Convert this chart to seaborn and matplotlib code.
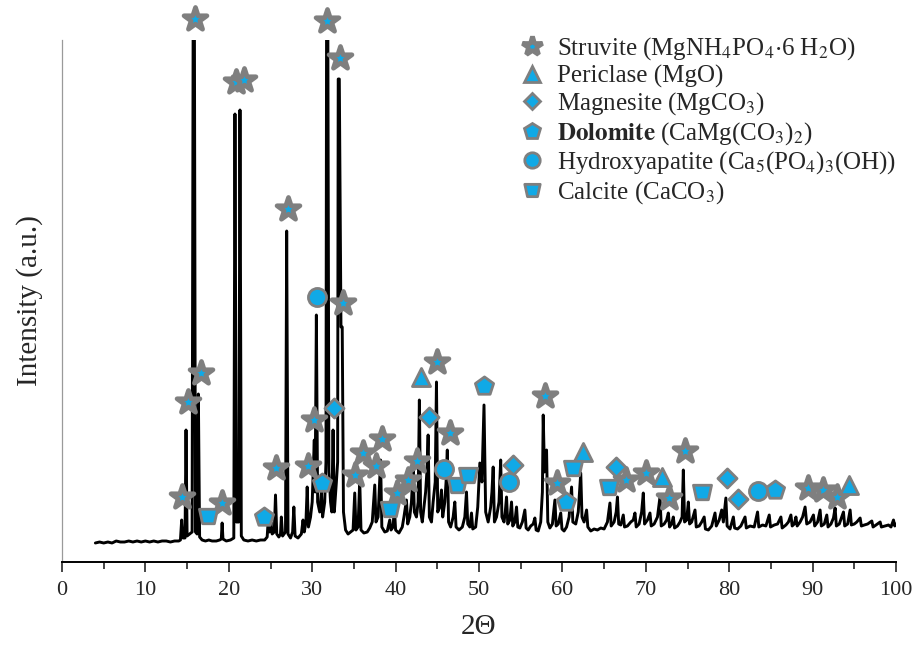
## XRD pattern of the recovered precipitate with phase markers
import numpy as np
import pandas as pd
import matplotlib
matplotlib.use("Agg")
import matplotlib.pyplot as plt
from matplotlib.lines import Line2D
from matplotlib.path import Path
import seaborn as sns

# digitised scan (2theta, intensity a.u.), split in four ranges
scan_low = [(4.0, 19), (4.5, 20), (5.0, 19), (5.5, 20), (6.0, 19), (6.5, 21), (7.0, 20), (7.5, 20),
            (8.0, 21), (8.5, 20), (9.0, 21), (9.5, 20), (10.0, 21), (10.5, 20), (11.0, 21), (11.5, 20),
            (12.0, 21), (12.5, 21), (13.0, 20), (13.5, 21), (14.0, 21),
            (14.2, 22), (14.35, 42), (14.5, 24), (14.75, 24), (14.87, 132), (15.0, 26),
            (15.6, 30), (15.72, 522), (15.88, 522), (16.0, 30), (16.2, 28), (16.35, 168), (16.5, 25),
            (16.8, 22), (17.2, 21), (17.6, 22), (18.0, 21), (18.5, 21), (18.9, 22),
            (19.1, 23), (19.2, 39), (19.3, 23), (19.7, 21), (20.2, 22),
            (20.6, 24), (20.74, 448), (20.9, 40), (21.2, 40), (21.34, 452), (21.5, 26),
            (21.8, 22), (22.3, 21), (22.8, 22), (23.3, 21), (23.8, 22), (24.3, 22),
            (24.6, 25), (24.75, 45), (24.9, 30), (25.05, 40), (25.2, 28),
            (25.45, 30), (25.6, 67), (25.75, 28), (26.0, 25), (26.2, 28), (26.3, 45), (26.45, 26),
            (26.8, 30), (26.94, 331), (27.1, 28), (27.4, 24), (27.65, 30), (27.8, 55), (27.95, 26),
            (28.3, 24), (28.7, 28), (28.9, 42), (29.05, 30), (29.25, 40), (29.4, 75), (29.55, 35),
            (29.8, 45), (30.0, 60), (30.25, 122), (30.35, 70), (30.5, 247), (30.65, 60),
            (30.9, 50), (31.1, 70), (31.25, 45), (31.5, 60),
            (31.65, 100), (31.72, 522), (31.88, 522), (32.0, 90), (32.2, 60), (32.35, 50),
            (32.5, 132), (32.65, 50), (32.9, 80), (33.05, 100), (33.12, 483), (33.25, 483),
            (33.45, 235), (33.6, 235), (33.75, 50), (34.0, 32)]

scan_mid = [(34.3, 28), (34.6, 30), (34.9, 32), (35.1, 69), (35.25, 32), (35.5, 35), (35.7, 82),
            (35.85, 32), (36.2, 29), (36.6, 30), (36.9, 34), (37.2, 40), (37.5, 77), (37.65, 40),
            (37.9, 45), (38.2, 102), (38.35, 35), (38.7, 30), (39.0, 31), (39.3, 42), (39.45, 32),
            (39.7, 35), (39.85, 55), (40.0, 32), (40.4, 29), (40.8, 35), (41.0, 45), (41.3, 62),
            (41.45, 38), (41.7, 45), (41.9, 60), (42.1, 92), (42.25, 50), (42.5, 45), (42.7, 60),
            (42.85, 162), (43.0, 50), (43.2, 40), (43.4, 55), (43.6, 70), (43.75, 90), (43.9, 127),
            (44.05, 45), (44.3, 40), (44.5, 60), (44.75, 80), (44.9, 180), (45.05, 50), (45.3, 55),
            (45.5, 72), (45.65, 45), (45.9, 60), (46.05, 80), (46.2, 112), (46.35, 40), (46.6, 35),
            (46.9, 45), (47.1, 60), (47.25, 35), (47.6, 32), (48.0, 35), (48.3, 45), (48.5, 70),
            (48.65, 38), (48.9, 35), (49.1, 49), (49.25, 33), (49.6, 35), (49.85, 55), (50.1, 99),
            (50.35, 80), (50.6, 157), (50.8, 50), (51.1, 40), (51.4, 55), (51.55, 70), (51.7, 95),
            (51.85, 40), (52.1, 45), (52.4, 60), (52.6, 102), (52.75, 45), (53.0, 40), (53.15, 50),
            (53.3, 65), (53.45, 38), (53.7, 42), (53.9, 60), (54.05, 36), (54.3, 40), (54.5, 55),
            (54.65, 35)]

scan_high = [(54.9, 34), (55.2, 40), (55.5, 52), (55.65, 34), (55.9, 32), (56.2, 36), (56.5, 38),
             (56.7, 44), (56.85, 32), (57.1, 31), (57.4, 40), (57.6, 70), (57.7, 147), (57.85, 90),
             (58.1, 112), (58.25, 40), (58.5, 34), (58.8, 38), (59.1, 62), (59.25, 36), (59.5, 38),
             (59.8, 49), (59.95, 33), (60.2, 31), (60.5, 35), (60.8, 45), (61.1, 75), (61.25, 40),
             (61.6, 38), (61.9, 50), (62.2, 89), (62.35, 45), (62.6, 40), (62.9, 52), (63.05, 35),
             (63.4, 31), (63.8, 33), (64.2, 32), (64.6, 34), (65.0, 33), (65.4, 40), (65.7, 59),
             (65.85, 36), (66.2, 40), (66.45, 50), (66.6, 65), (66.75, 38), (67.0, 37), (67.3, 47),
             (67.45, 35), (67.8, 36), (68.2, 40), (68.5, 42), (68.7, 49), (68.85, 35), (69.2, 38),
             (69.5, 50), (69.7, 69), (69.85, 38), (70.2, 42), (70.5, 49), (70.65, 36), (71.0, 38),
             (71.4, 45), (71.7, 65), (71.85, 36), (72.2, 38), (72.5, 42), (72.7, 49), (72.85, 35),
             (73.1, 38), (73.3, 45), (73.45, 34), (73.8, 36), (74.1, 40), (74.35, 45), (74.5, 92),
             (74.65, 40)]

scan_tail = [(74.9, 42), (75.1, 60), (75.25, 38), (75.5, 40), (75.9, 52), (76.05, 35), (76.4, 36),
             (76.7, 40), (77.0, 45), (77.15, 33), (77.5, 32), (77.9, 36), (78.3, 49), (78.45, 36),
             (78.8, 42), (79.1, 52), (79.3, 40), (79.6, 64), (79.75, 36), (80.1, 33), (80.5, 45),
             (80.65, 34), (81.0, 33), (81.4, 36), (81.9, 45), (82.05, 34), (82.5, 36), (83.0, 35),
             (83.4, 50), (83.55, 35), (84.0, 37), (84.4, 36), (84.8, 47), (84.95, 35), (85.4, 37),
             (85.8, 38), (86.2, 45), (86.35, 34), (86.8, 37), (87.1, 40), (87.4, 47), (87.55, 36),
             (87.8, 38), (88.0, 45), (88.15, 36), (88.5, 40), (88.8, 45), (89.1, 55), (89.3, 38),
             (89.7, 40), (90.1, 47), (90.25, 36), (90.6, 40), (90.9, 52), (91.05, 36), (91.4, 38),
             (91.7, 47), (91.85, 35), (92.2, 38), (92.5, 44), (92.7, 54), (92.85, 36), (93.2, 38),
             (93.7, 50), (93.85, 36), (94.2, 38), (94.5, 52), (94.65, 37), (95.0, 38), (95.3, 40),
             (95.7, 44), (95.85, 36), (96.2, 37), (96.6, 38), (97.1, 41), (97.25, 35), (97.6, 37),
             (98.1, 40), (98.25, 35), (98.7, 36), (99.1, 37), (99.4, 35), (99.7, 42), (99.85, 36),
             (100.0, 38)]

# phase identification markers (2theta, marker height)
struvite_x = [14.35, 15.14, 15.95, 16.63, 19.22, 20.83, 21.86, 25.62, 27.06, 29.53, 30.22, 31.81,
              33.33, 33.73, 35.13, 36.06, 37.61, 38.41, 40.13, 41.52, 42.53, 45.0, 46.52, 57.91,
              59.32, 67.63, 69.99, 72.78, 74.7, 89.48, 91.21, 92.89]
struvite_y = [65, 160, 543, 189, 59, 480, 482, 94, 353, 96, 142, 541,
              504, 259, 87, 109, 96, 123, 69, 82, 101, 200, 129, 166,
              79, 82, 89, 64, 111, 74, 72, 65]
periclase_x = [43.05, 62.51, 71.9, 94.4]
periclase_y = [185, 110, 85, 77]
magnesite_x = [32.61, 44.04, 54.04, 66.43, 79.7, 81.09]
magnesite_y = [154, 145, 97, 95, 84, 63]
dolomite_x = [24.26, 31.14, 50.64, 60.43, 85.49]
dolomite_y = [45, 79, 176, 60, 72]
hydroxyapatite_x = [30.61, 45.84, 53.6, 83.49]
hydroxyapatite_y = [265, 93, 80, 71]
calcite_x = [17.47, 39.33, 47.33, 48.64, 61.23, 65.62, 76.7]
calcite_y = [46, 53, 77, 87, 94, 75, 70]

phase_labels = [r"Struvite (MgNH$_4$PO$_4$$\cdot$6 H$_2$O)",
                "Periclase (MgO)",
                r"Magnesite (MgCO$_3$)",
                r"$\mathbf{Dolomite}$ (CaMg(CO$_3$)$_2$)",
                r"Hydroxyapatite (Ca$_5$(PO$_4$)$_3$(OH))",
                r"Calcite (CaCO$_3$)"]

scan = pd.DataFrame(scan_low + scan_mid + scan_high + scan_tail, columns=["two_theta", "intensity"])

sns.set_style("white")
plt.rcParams["font.family"] = ["Liberation Serif", "DejaVu Serif"]
plt.rcParams["mathtext.fontset"] = "stix"

fill = "#10a9e6"
edge = "#7f7f7f"
bucket = Path([(-1.0, 0.8), (1.0, 0.8), (0.65, -0.8), (-0.65, -0.8), (-1.0, 0.8)],
              [Path.MOVETO, Path.LINETO, Path.LINETO, Path.LINETO, Path.CLOSEPOLY])

fig = plt.figure(figsize=(9.21, 6.46), dpi=100)
ax = fig.add_axes([62 / 921, 1 - 562 / 646, 834 / 921, 522 / 646])

sns.lineplot(data=scan, x="two_theta", y="intensity", sort=False, color="black",
             linewidth=2.1, ax=ax, zorder=2)

phases = [(struvite_x, struvite_y, "*", 300, 3.4),
          (periclase_x, periclase_y, "^", 170, 2.0),
          (magnesite_x, magnesite_y, "D", 95, 2.0),
          (dolomite_x, dolomite_y, "p", 190, 2.0),
          (hydroxyapatite_x, hydroxyapatite_y, "o", 170, 2.0),
          (calcite_x, calcite_y, bucket, 170, 2.0)]
handles = []
for (px, py, mk, sz, lw), lab in zip(phases, phase_labels):
    sns.scatterplot(x=px, y=py, marker=mk, s=sz, color=fill, edgecolor=edge,
                    linewidth=lw, ax=ax, clip_on=False, zorder=3)
    handles.append(Line2D([], [], linestyle="none", marker=mk, markersize=np.sqrt(sz) * 0.85,
                          markerfacecolor=fill, markeredgecolor=edge, markeredgewidth=lw,
                          label=lab))

ax.set_xlim(0, 100)
ax.set_ylim(0, 522)
ax.set_xticks(np.arange(0, 101, 10))
ax.set_xticks(np.arange(5, 100, 10), minor=True)
ax.set_yticks([])
ax.tick_params(axis="x", which="major", direction="out", length=7, width=1.2,
               labelsize=16, pad=7, bottom=True)
ax.tick_params(axis="x", which="minor", direction="out", length=5, width=1.2, bottom=True)
for s in ["top", "right"]:
    ax.spines[s].set_visible(False)
ax.spines["bottom"].set_color("black")
ax.spines["bottom"].set_linewidth(1.4)
ax.spines["left"].set_color("#9a9a9a")
ax.spines["left"].set_linewidth(0.9)

ax.set_xlabel("2Θ", fontsize=21, labelpad=10)
ax.set_ylabel("Intensity (a.u.)", fontsize=21, labelpad=14)

ax.legend(handles=handles, loc="upper left", bbox_to_anchor=(518 / 921, 1 - 35 / 646),
          bbox_transform=fig.transFigure, frameon=False, fontsize=18, borderpad=0,
          borderaxespad=0, handlelength=1.1, handletextpad=0.45, labelspacing=0.11)

plt.savefig("out.png", dpi=100)
